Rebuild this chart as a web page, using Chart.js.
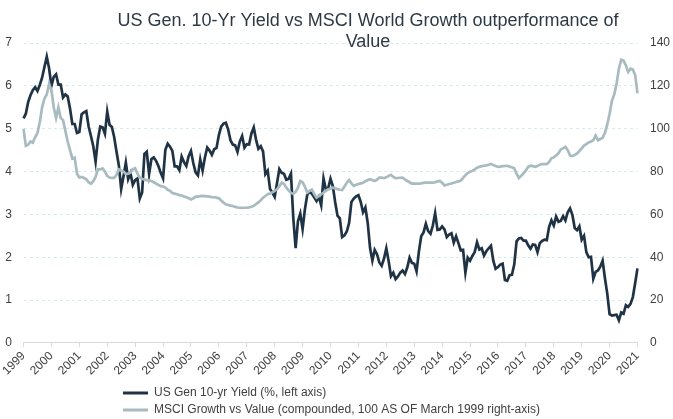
<!DOCTYPE html>
<html>
<head>
<meta charset="utf-8">
<script src="https://cdn.jsdelivr.net/npm/chart.js@4.4.1/dist/chart.umd.min.js"></script>
<style>
  html, body { margin: 0; padding: 0; background: #fff; }
  #wrap { position: relative; width: 673px; height: 419px; }
</style>
</head>
<body>
<div id="wrap"><canvas id="myChart"></canvas></div>
<script>
// year tick labels, one every 12 months starting March 1999
const years = ['1999', '2000', '2001', '2002', '2003', '2004', '2005', '2006', '2007', '2008', '2009', '2010',
  '2011', '2012', '2013', '2014', '2015', '2016', '2017', '2018', '2019', '2020', '2021'];

// monthly categories, Mar 1999 .. Mar 2021
const months = [];
for (let y = 1999, m = 3; y < 2021 || (y === 2021 && m <= 3); m++) {
  if (m > 12) { m = 1; y++; if (y === 2021 && m > 3) break; }
  months.push(y + '-' + String(m).padStart(2, '0'));
}

// US Gen 10-yr yield, % (left axis)
const yieldPct = [
  5.24, 5.35, 5.62, 5.78, 5.90, 5.97, 5.88, 6.02, 6.19, 6.44,
  6.68, 6.41, 6.00, 6.21, 6.27, 6.03, 6.03, 5.73, 5.80, 5.75, 5.47, 5.11,
  5.11, 4.90, 4.92, 5.34, 5.38, 5.41, 5.05, 4.83, 4.59, 4.23, 4.75, 5.05,
  5.03, 4.88, 5.40, 5.09, 5.04, 4.80, 4.46, 4.14, 3.59, 3.89, 4.21, 3.82,
  3.96, 3.69, 3.80, 3.84, 3.37, 3.51, 4.41, 4.46, 3.94, 4.29, 4.33, 4.25,
  4.13, 3.97, 3.84, 4.51, 4.65, 4.58, 4.48, 4.12, 4.12, 4.03, 4.35, 4.22,
  4.13, 4.36, 4.48, 4.20, 3.98, 3.91, 4.28, 4.02, 4.33, 4.56, 4.49, 4.39,
  4.52, 4.55, 4.85, 5.05, 5.12, 5.14, 4.98, 4.73, 4.63, 4.61, 4.46, 4.70,
  4.83, 4.56, 4.64, 4.63, 4.89, 5.03, 4.74, 4.53, 4.59, 4.47, 3.94, 4.02,
  3.59, 3.51, 3.41, 3.73, 4.06, 3.97, 3.95, 3.81, 3.83, 3.95, 2.92, 2.21,
  2.84, 3.02, 2.66, 3.12, 3.46, 3.53, 3.48, 3.40, 3.31, 3.41, 3.21, 3.84,
  3.58, 3.61, 3.83, 3.66, 3.29, 2.97, 2.91, 2.47, 2.51, 2.60, 2.80, 3.29,
  3.37, 3.42, 3.45, 3.29, 3.05, 3.16, 2.80, 2.22, 1.92, 2.17, 2.07, 1.88,
  1.80, 1.97, 2.21, 1.91, 1.56, 1.64, 1.49, 1.55, 1.64, 1.69, 1.61, 1.76,
  1.99, 1.87, 1.85, 1.67, 2.13, 2.49, 2.58, 2.78, 2.61, 2.55, 2.74, 3.03,
  2.64, 2.65, 2.72, 2.65, 2.47, 2.53, 2.56, 2.34, 2.49, 2.33, 2.16, 2.17,
  1.64, 1.99, 1.92, 2.03, 2.12, 2.35, 2.18, 2.21, 2.04, 2.14, 2.21, 2.27,
  1.92, 1.73, 1.77, 1.83, 1.85, 1.47, 1.45, 1.58, 1.59, 1.83, 2.37, 2.44,
  2.45, 2.39, 2.39, 2.28, 2.20, 2.30, 2.29, 2.12, 2.33, 2.38, 2.41, 2.40,
  2.71, 2.86, 2.74, 2.95, 2.83, 2.85, 2.96, 2.86, 3.05, 3.14, 2.99, 2.68,
  2.63, 2.72, 2.41, 2.50, 2.12, 2.00, 2.01, 1.50, 1.66, 1.69, 1.78, 1.92,
  1.51, 1.15, 0.67, 0.64, 0.65, 0.66, 0.53, 0.71, 0.68, 0.88, 0.84, 0.91,
  1.07, 1.40, 1.74
];

// MSCI World Growth vs Value, compounded, 100 = March 1999 (right axis)
const growthVsValue = [
  100, 92, 92.5, 94, 93.5, 96, 98, 103, 110, 114, 116, 121,
  118, 110, 105, 110, 105, 104, 99, 94, 90, 86, 86.5, 79,
  77.2, 77.5, 77, 76.4, 75, 74.3, 75.5, 77.5, 81, 81, 81.5, 80,
  78, 77.2, 77, 77, 78.5, 81, 80.5, 80, 78.8, 79, 79.5, 81.1,
  81.5, 79, 77.2, 76.6, 76.2, 76, 75.8, 75.6, 75, 74.4, 73.8, 73.2,
  73, 72.5, 71.5, 71, 70, 69.7, 69.4, 69, 68.8, 68.4, 68, 67.6,
  67, 67.5, 68.3, 68.3, 68.5, 68.6, 68.5, 68.4, 68.3, 68.1, 68, 67.8,
  67.5, 66.5, 65.5, 64.7, 64.4, 64.1, 63.9, 63.5, 63.2, 63.1, 63, 63.1,
  63.1, 63.3, 63.6, 64, 64.8, 65.6, 66.6, 67.8, 68.6, 69.4, 69.8, 70.3,
  71, 71.7, 73.2, 74.8, 74.3, 72.5, 71.2, 70, 69.6, 70.5, 72.5, 75.6,
  75, 73, 70.2, 71, 71.6, 69.5, 67.8, 68.5, 69.4, 70.2, 71, 71.7,
  72, 72.5, 72.2, 71.8, 71.5, 71.4, 73, 74.8, 76, 74.5, 73.3, 73.8,
  74.2, 74.5, 74.8, 75.5, 76, 76.4, 76, 75.6, 76.2, 77.2, 77.2, 76.9,
  77.3, 78, 78.5, 77.5, 76.9, 77, 77.1, 77.2, 76.3, 75.6, 75, 74.4,
  74.4, 74.4, 74.4, 74.5, 74.7, 74.8, 74.8, 74.8, 74.8, 75, 75.4, 75.6,
  74.8, 73.5, 73.8, 74.2, 74.4, 74.8, 75.1, 75.4, 75.8, 77, 78.3, 79.3,
  79.9, 80.3, 81, 81.8, 82.2, 82.5, 82.7, 82.9, 83.2, 83.5, 83, 82.6,
  82.2, 82.3, 82.5, 82.6, 82.7, 82.3, 82, 81.5, 79, 77, 78, 79.2,
  80.5, 82.2, 82.7, 82.5, 82.2, 82.6, 83.2, 83.5, 83.5, 83.5, 84.5, 86.2,
  86.6, 87.5, 88.5, 90.3, 90.8, 91.5, 90, 87.5, 87.2, 87.8, 88.4, 89.5,
  90.8, 92.1, 92.8, 93.6, 94, 94.7, 96.8, 94.6, 95.2, 95.8, 98, 102,
  107, 113, 116, 121, 128, 132.2, 131.8, 129.5, 126.5, 128, 127.6, 125,
  116.5
];

const titleLines = ['US Gen. 10-Yr Yield vs MSCI World Growth outperformance of', 'Value'];

const darkLine = '#1f3345';
const greyLine = '#a7bbc1';
const textColor = '#404040';
const font = 'Liberation Sans, Arial, sans-serif';

// title sits over the top of the plot, as in the original
const titlePlugin = {
  id: 'overTitle',
  afterDraw(chart) {
    const ctx = chart.ctx;
    ctx.save();
    ctx.font = '18px ' + font;
    ctx.fillStyle = '#2d3945';
    ctx.textAlign = 'center';
    ctx.textBaseline = 'alphabetic';
    ctx.fillText(titleLines[0], 368, 26);
    ctx.fillText(titleLines[1], 368, 47);
    ctx.restore();
  }
};

// legend rows left-aligned as one block under the title centre
const legendShift = {
  id: 'legendShift',
  afterLayout(chart) {
    const lg = chart.legend;
    const pad = lg.options.labels.padding;
    const w = lg.right - lg.left;
    lg.left = 123 - pad;
    lg.right = lg.left + w;
    lg.top += 2;
    lg.bottom += 2;
  }
};

new Chart(document.getElementById('myChart'), {
  type: 'line',
  data: {
    labels: months,
    datasets: [{
      label: 'US Gen 10-yr Yield (%, left axis)',
      data: yieldPct,
      yAxisID: 'y',
      borderColor: darkLine,
      backgroundColor: darkLine,
      borderWidth: 2.7,
      pointRadius: 0,
      order: 2
    }, {
      label: 'MSCI Growth vs Value (compounded, 100 AS OF March 1999 right-axis)',
      data: growthVsValue,
      yAxisID: 'y2',
      borderColor: greyLine,
      backgroundColor: greyLine,
      borderWidth: 2.7,
      pointRadius: 0,
      order: 1
    }]
  },
  options: {
    responsive: true,
    maintainAspectRatio: false,
    animation: false,
    layout: { padding: { top: 43, left: 3, right: 3, bottom: -5 } },
    plugins: {
      tooltip: { enabled: false },
      title: { display: false },
      legend: {
        position: 'bottom',
        align: 'start',
        fullSize: false,
        labels: {
          color: textColor,
          font: { family: font, size: 12 },
          boxWidth: 25,
          boxHeight: 3,
          padding: 5,
          sort: (a, b) => a.datasetIndex - b.datasetIndex,
          generateLabels: (chart) => Chart.defaults.plugins.legend.labels.generateLabels(chart)
            .map(l => Object.assign(l, { lineWidth: 0 }))
        }
      }
    },
    scales: {
      x: {
        type: 'category',
        border: { display: true, color: '#d9d9d9', width: 1 },
        grid: {
          display: true,
          drawOnChartArea: false,
          drawTicks: true,
          tickLength: 4,
          color: (c) => c.index % 12 === 0 ? '#d9d9d9' : 'rgba(0,0,0,0)',
          tickColor: (c) => c.index % 12 === 0 ? '#d9d9d9' : 'rgba(0,0,0,0)'
        },
        ticks: {
          autoSkip: false,
          minRotation: 45,
          maxRotation: 45,
          padding: 2,
          color: textColor,
          font: { family: font, size: 12 },
          callback: (v, i) => i % 12 === 0 ? years[i / 12] : ''
        }
      },
      y: {
        position: 'left',
        min: 0,
        max: 7,
        border: { display: false, dash: [3, 3] },
        grid: { color: '#d6ecee', drawTicks: false },
        ticks: {
          stepSize: 1,
          padding: 11.5,
          color: textColor,
          font: { family: font, size: 12 }
        },
        afterFit: (s) => { s.width = 20.5; }
      },
      y2: {
        position: 'right',
        min: 0,
        max: 140,
        border: { display: false },
        grid: { display: false, drawTicks: false },
        ticks: {
          stepSize: 20,
          padding: 12.5,
          color: textColor,
          font: { family: font, size: 12 }
        },
        afterFit: (s) => { s.width = 32.5; }
      }
    }
  },
  plugins: [titlePlugin, legendShift]
});
</script>
</body>
</html>
